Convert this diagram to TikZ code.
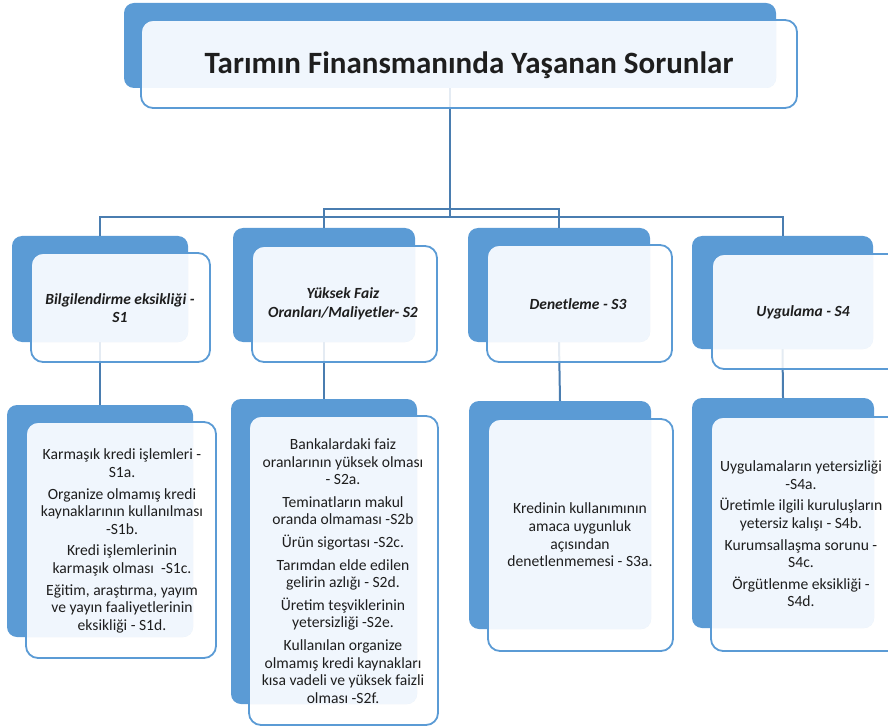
\documentclass[tikz,border=0pt]{standalone}
\usepackage{fontspec}
\setmainfont{Carlito}
\usetikzlibrary{fit}
\definecolor{accent}{HTML}{5B9BD5}
\definecolor{lightfill}{HTML}{F0F6FD}
\definecolor{conn}{HTML}{4A7DB0}
\definecolor{txt}{HTML}{1E1E1E}
\tikzset{
  backbox/.style={fill=accent, draw=none, rounded corners=10pt, inner sep=0pt},
  conline/.style={draw=conn, line width=2pt},
  titletext/.style={font=\fontsize{31}{36}\selectfont\bfseries, text=txt, align=center},
  headtext/.style={font=\fontsize{15.5}{18.5}\selectfont\bfseries\itshape, text=txt, align=center},
  bodytext/.style={font=\fontsize{15.6}{17.6}\selectfont, text=txt, align=center},
}
% #1 front name, #2-#5 back rect, #6-#9 front rect
\newcommand\myfront[9]{%
  \node[fit={(#6,#7)(#8,#9)}, inner sep=0pt, fill=white, fill opacity=0.85, rounded corners=12pt] (#1) {};
  \begin{scope}
    \clip[rounded corners=12pt] (#6,#7) rectangle (#8,#9);
    \fill[lightfill, rounded corners=10pt] (#2,#3) rectangle (#4,#5);
  \end{scope}
  \draw[accent, line width=1.8pt, rounded corners=12pt] (#6,#7) rectangle (#8,#9);
}
\begin{document}
\begin{tikzpicture}[x=1pt,y=-1pt]
\useasboundingbox (0,0) rectangle (888,727);
% back boxes
\node[backbox, fit={(124,3)(776,88)}] (tB) {};
\node[backbox, fit={(12,236)(188,342)}] (h1B) {};
\node[backbox, fit={(233,228)(415,342)}] (h2B) {};
\node[backbox, fit={(468,228)(650,342)}] (h3B) {};
\node[backbox, fit={(692,236)(873,349)}] (h4B) {};
\node[backbox, fit={(7,405)(193,637)}] (d1B) {};
\node[backbox, fit={(231,399)(417,704)}] (d2B) {};
\node[backbox, fit={(469,401)(651,629)}] (d3B) {};
\node[backbox, fit={(692,398)(874,628)}] (d4B) {};
% connectors
\coordinate (busO) at (450,217);
\coordinate (busI) at (450,209);
\draw[conline] (tB.south) -- (busO);
\draw[conline] (busO) -| (h1B.north);
\draw[conline] (busO) -| (h4B.north);
\draw[conline] (busI) -| (h2B.north);
\draw[conline] (busI) -| (h3B.north);
\draw[conline] (h1B.south) -- (d1B.north);
\draw[conline] (h2B.south) -- (d2B.north);
\draw[conline] (h3B.south) -- (d3B.north);
\draw[conline] (h4B.south) -- (d4B.north);
% front boxes
\myfront{tF}{124}{3}{776}{88}{141}{20}{797}{108}
\myfront{h1F}{12}{236}{188}{342}{31}{253}{210}{362}
\myfront{h2F}{233}{228}{415}{342}{252}{246}{437}{362}
\myfront{h3F}{468}{228}{650}{342}{487}{245}{672}{362}
\myfront{h4F}{692}{236}{873}{349}{712}{254}{900}{369}
\myfront{d1F}{7}{405}{193}{637}{26}{422}{216}{658}
\myfront{d2F}{231}{399}{417}{704}{249}{416}{438}{725}
\myfront{d3F}{469}{401}{651}{629}{488}{419}{673}{651}
\myfront{d4F}{692}{398}{874}{628}{711}{417}{900}{651}
% texts
\node[titletext] (tT) at (469,65) {Tarımın Finansmanında Yaşanan Sorunlar};
\node[headtext] (h1T) at (120,308) {Bilgilendirme eksikliği -\\S1};
\node[headtext] (h2T) at (343,304) {Yüksek Faiz\\Oranları/Maliyetler- S2};
\node[headtext] (h3T) at (578,304) {Denetleme - S3};
\node[headtext] (h4T) at (803,312) {Uygulama - S4};
\node[bodytext] (d1T) at (122,541) {Karmaşık kredi işlemleri -\\S1a.\\[4pt]Organize olmamış kredi\\kaynaklarının kullanılması\\-S1b.\\[4pt]Kredi işlemlerinin\\karmaşık olması~~-S1c.\\[4pt]Eğitim, araştırma, yayım\\ve yayın faaliyetlerinin\\eksikliği - S1d.};
\node[bodytext] (d2T) at (343,571) {Bankalardaki faiz\\oranlarının yüksek olması\\- S2a.\\[5pt]Teminatların makul\\oranda olmaması -S2b\\[5pt]Ürün sigortası -S2c.\\[5pt]Tarımdan elde edilen\\gelirin azlığı - S2d.\\[5pt]Üretim teşviklerinin\\yetersizliği -S2e.\\[5pt]Kullanılan organize\\olmamış kredi kaynakları\\kısa vadeli ve yüksek faizli\\olması -S2f.};
\node[bodytext] (d3T) at (580,535) {Kredinin kullanımının\\amaca uygunluk\\açısından\\denetlenmemesi - S3a.};
\node[bodytext] (d4T) at (801,534) {Uygulamaların yetersizliği\\-S4a.\\[4pt]Üretimle ilgili kuruluşların\\yetersiz kalışı - S4b.\\[4pt]Kurumsallaşma sorunu -\\S4c.\\[4pt]Örgütlenme eksikliği -\\S4d.};
\end{tikzpicture}
\end{document}
